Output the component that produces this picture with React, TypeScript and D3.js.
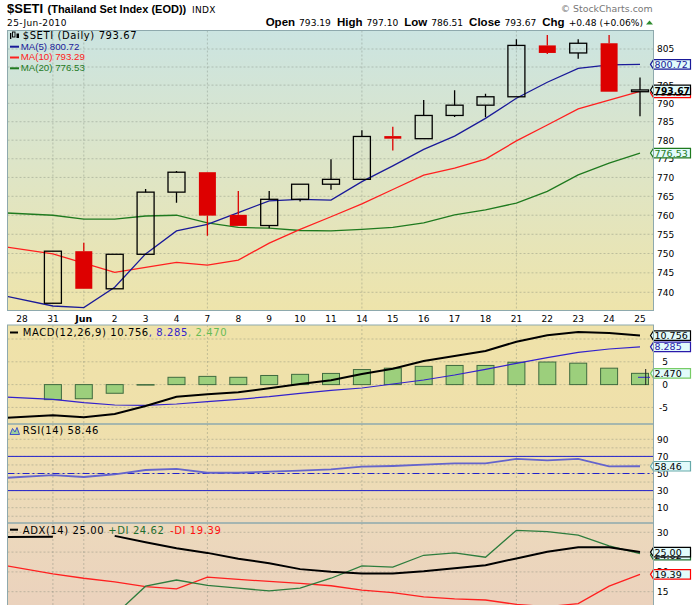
import React from 'react';
import * as d3 from 'd3';

// ---------- DATA ----------
const xLabels = ["28","31","Jun","2","3","4","7","8","9","10","11","14","15","16","17","18","21","22","23","24","25"];
const gridLabels = ["31","Jun","7","14","21"];

// slots for indicator series (-1 = prior session, left of the visible area; 28 has no session)
const seriesSlots = [-1,1,2,3,4,5,6,7,8,9,10,11,12,13,14,15,16,17,18,19,20];
const candleSlots = [1,2,3,4,5,6,7,8,9,10,11,12,13,14,15,16,17,18,19,20];

const openP  = [737.2,750.6,740.9,749.8,766.1,771.4,760.1,757.3,764.2,768.2,769.5,781.1,780.4,786.7,789.5,791.8,806.0,803.9,806.6,793.19];
const highP  = [750.6,752.8,749.8,766.9,771.7,771.4,766.4,766.4,768.2,774.9,782.7,783.6,790.9,793.6,792.6,807.7,808.9,807.7,808.9,797.10];
const lowP   = [737.2,740.9,740.9,749.8,763.3,754.6,757.2,756.6,763.6,766.7,769.5,777.2,780.4,786.3,786.2,791.8,803.6,802.3,793.19,786.51];
const closeP = [750.6,740.9,749.8,766.1,771.4,759.9,757.2,764.2,768.2,769.5,781.0,780.4,786.7,789.5,791.8,806.0,803.9,806.6,793.19,793.67];

const ma5  = [739.8,736.5,736.1,741.3,749.9,755.9,757.6,760.7,763.8,764.2,764.0,768.9,773.1,777.5,781.1,785.9,791.4,795.8,799.6,800.6,800.72];
const ma10 = [752.3,749.9,747.5,745.1,746.4,747.7,747.0,748.3,752.7,756.3,759.6,763.0,766.8,770.6,772.5,774.9,779.8,784.1,788.5,790.9,793.29];
const ma20 = [760.8,760.0,759.0,759.0,759.8,760.0,758.0,756.8,756.6,756.0,755.9,756.3,756.8,758.0,760.1,761.4,763.2,766.3,770.7,773.8,776.53];

const macdLine = [-7.46,-6.73,-7.17,-6.45,-4.69,-2.65,-2.13,-1.69,-0.81,0.13,0.94,2.32,3.49,5.18,6.27,7.37,9.41,10.81,11.54,11.32,10.756];
const signalLine = [-2.6,-3.22,-3.97,-4.47,-4.54,-4.25,-3.75,-3.22,-2.65,-1.91,-1.25,-0.75,0.13,1.01,2.1,3.35,4.67,5.9,7.08,7.81,8.285];
const histValues = [-3.3,-3.1,-1.9,-0.1,1.6,1.8,1.6,2.0,2.25,2.45,3.3,3.6,4.0,4.2,4.2,4.9,4.95,4.7,3.6,2.47];

const rsiValues = [43.9,48.2,45.9,49.1,54.1,55.3,50.9,50.9,52.1,53.3,54.9,58.0,58.8,60.3,61.9,61.9,67.0,65.4,67.0,58.4,58.46];

const adxValues = [28.8,28.9,NaN,29.1,27.5,26.0,24.8,23.3,22.2,20.7,20.05,19.6,19.6,20.15,20.9,21.7,23.4,25.1,26.2,26.2,25.0];
const plusDI  = [8,8,8.5,9.1,16.4,17.95,16.6,15.9,15.2,15.9,18.4,21.5,21.2,24.2,24.8,23.7,30.5,30.15,29.3,26.6,24.62];
const minusDI = [22.25,19.5,18.4,17.5,16.3,15.7,18.7,18.1,17.6,17.1,16.5,15.4,14.75,13.7,13.2,12.9,11.8,11.2,12.0,16.4,19.39];

const priceTicks = d3.range(740, 806, 5);
const priceLabels = [805, 795, 790, 785, 780, 775, 770, 765, 760, 755, 750, 745, 740];
const macdTicks = [10, 5, 0, -5];
const macdLabels = [5, 0, -5];
const rsiTicks = [90, 80, 70, 60, 50, 40, 30, 20, 10, 0];
const rsiLabels = [90, 70, 50, 30, 10];
const adxTicks = [30, 25, 20, 15, 10];
const adxLabels = [30, 20, 15];

// ---------- LAYOUT ----------
const W = 699, H = 605;
const L = 7.5, R = 653.5;
const P = { top: 30.5, bottom: 310.5 };
const M = { top: 325, bottom: 424 };
const RS = { top: 424, bottom: 523 };
const A = { top: 523, bottom: 660 };

const x = d3.scaleLinear().domain([0, 20]).range([22, 640]);
const yP = d3.scaleLog().domain([740, 805]).range([292.3, 49]);
const yM = d3.scaleLinear().domain([10, -5]).range([339, 407.4]);
const yR = d3.scaleLinear().domain([90, 10]).range([439.3, 507.7]);
const yA = d3.scaleLinear().domain([30, 15]).range([532.3, 591.7]);

const FONT = "'DejaVu Sans', Verdana, sans-serif";
const ARIAL = "'Liberation Sans', Arial, sans-serif";
const GRID = "rgba(110,120,110,0.35)";

function pathFor(vals: number[], y: (v: number) => number, gaps = false) {
  const pts: [number, number][] = seriesSlots.map((s, i) => [x(s), vals[i]]);
  const gen = d3.line<[number, number]>().x(d => d[0]).y(d => y(d[1]));
  if (gaps) gen.defined(d => !isNaN(d[1]));
  return gen(gaps ? pts : pts.filter(d => !isNaN(d[1]))) || '';
}

function Tag({ y, text, stroke, color = '#000', bold = false, fill = '#e2fbfb' }:
  { y: number; text: string; stroke: string; color?: string; bold?: boolean; fill?: string }) {
  const x0 = 650.5, w = 40, h = 9.5;
  const d = `M${x0},${y} L${x0 + 3},${y - h / 2} L${x0 + w},${y - h / 2} L${x0 + w},${y + h / 2} L${x0 + 3},${y + h / 2} Z`;
  return (
    <g>
      <path d={d} fill={fill} stroke={stroke} strokeWidth={1.2} />
      <text x={x0 + 4} y={y + 3.6} fontSize={bold ? 9.2 : 9.5} fontFamily={FONT} fontWeight={bold ? 'bold' : 'normal'} fill={color}>{text}</text>
    </g>
  );
}

function HGrid({ ys }: { ys: number[] }) {
  return <g>{ys.map((yy, i) => <line key={i} x1={L} x2={R} y1={yy} y2={yy} stroke={GRID} strokeDasharray="2,2" />)}</g>;
}

function VGrid({ top, bottom }: { top: number; bottom: number }) {
  return <g>{gridLabels.map(lb => {
    const xx = x(xLabels.indexOf(lb));
    return <line key={lb} x1={xx} x2={xx} y1={top} y2={bottom} stroke={GRID} strokeDasharray="2,2" />;
  })}</g>;
}

export default function App() {
  const bodyW = 17;
  return (
    <svg width={W} height={H} style={{ position: 'absolute', left: 0, top: 0, background: '#fff' }} xmlns="http://www.w3.org/2000/svg">
      <defs>
        <linearGradient id="gp" gradientUnits="userSpaceOnUse" x1="0" y1={P.top} x2="0" y2={P.bottom}>
          <stop offset="0" stopColor="#cbe4e1" />
          <stop offset="0.5" stopColor="#dee5c6" />
          <stop offset="1" stopColor="#eee4ab" />
        </linearGradient>
        <linearGradient id="gl" gradientUnits="userSpaceOnUse" x1="0" y1={M.top} x2="0" y2={H}>
          <stop offset="0" stopColor="#efe2a9" />
          <stop offset="0.35" stopColor="#efe0ab" />
          <stop offset="0.7" stopColor="#ecd9bc" />
          <stop offset="1" stopColor="#ebd2bd" />
        </linearGradient>
        <clipPath id="cp"><rect x={L} y={P.top} width={R - L} height={P.bottom - P.top} /></clipPath>
        <clipPath id="cm"><rect x={L} y={M.top} width={R - L} height={M.bottom - M.top} /></clipPath>
        <clipPath id="cr"><rect x={L} y={RS.top} width={R - L} height={RS.bottom - RS.top} /></clipPath>
        <clipPath id="ca"><rect x={L} y={A.top} width={R - L} height={A.bottom - A.top} /></clipPath>
      </defs>

      {/* Header */}
      <text x={7} y={12.5} fontFamily={ARIAL} fontWeight="bold" fontSize={13} fill="#000">$SETI</text>
      <text x={47.5} y={12.5} fontFamily={ARIAL} fontWeight="bold" fontSize={11} fill="#000">(Thailand Set Index (EOD))</text>
      <text x={192} y={12.5} fontFamily={FONT} fontSize={9} letterSpacing={0.3} fill="#000">INDX</text>
      <text x={7} y={25.5} fontFamily={FONT} fontSize={9} letterSpacing={0.4} fill="#000">25-Jun-2010</text>
      <text x={652.7} y={11.5} fontFamily={FONT} fontSize={9.4} textAnchor="end" fill="#777">© StockCharts.com</text>
      <text x={643} y={25.5} textAnchor="end" fill="#000">
        <tspan fontFamily={ARIAL} fontWeight="bold" fontSize={11.5}>Open</tspan>
        <tspan dx={4} fontFamily={FONT} fontSize={9.1}>793.19</tspan>
        <tspan dx={6} fontFamily={ARIAL} fontWeight="bold" fontSize={11.5}>High</tspan>
        <tspan dx={4} fontFamily={FONT} fontSize={9.1}>797.10</tspan>
        <tspan dx={6} fontFamily={ARIAL} fontWeight="bold" fontSize={11.5}>Low</tspan>
        <tspan dx={4} fontFamily={FONT} fontSize={9.1}>786.51</tspan>
        <tspan dx={6} fontFamily={ARIAL} fontWeight="bold" fontSize={11.5}>Close</tspan>
        <tspan dx={4} fontFamily={FONT} fontSize={9.1}>793.67</tspan>
        <tspan dx={6} fontFamily={ARIAL} fontWeight="bold" fontSize={11.5}>Chg</tspan>
        <tspan dx={4} fontFamily={FONT} fontSize={9.1}>+0.48 (+0.06%)</tspan>
      </text>
      <path d="M646,24.5 L649.5,20.5 L653,24.5 Z" fill="#2e8b2e" />

      {/* Panel backgrounds */}
      <rect x={L} y={P.top} width={R - L} height={P.bottom - P.top} fill="url(#gp)" />
      <rect x={L} y={M.top} width={R - L} height={H - M.top} fill="url(#gl)" />

      {/* ---------- PRICE PANEL ---------- */}
      <HGrid ys={priceTicks.map(v => yP(v))} />
      <VGrid top={P.top} bottom={P.bottom} />
      <g clipPath="url(#cp)">
        <path d={pathFor(ma20, yP)} fill="none" stroke="#1f7a1f" strokeWidth={1.3} />
        <path d={pathFor(ma10, yP)} fill="none" stroke="#ff2020" strokeWidth={1.3} />
        <path d={pathFor(ma5, yP)} fill="none" stroke="#1a1a99" strokeWidth={1.3} />
        {candleSlots.map((s, i) => {
          const o = openP[i], c = closeP[i], h = highP[i], l = lowP[i];
          const prev = i > 0 ? closeP[i - 1] : -Infinity;
          const col = c < prev ? '#dd0000' : '#000';
          const filled = c < o;
          const cx = x(s);
          const yTop = yP(Math.max(o, c)), yBot = yP(Math.min(o, c));
          const bh = Math.max(1, yBot - yTop);
          return (
            <g key={s}>
              <line x1={cx} x2={cx} y1={yP(h)} y2={yTop} stroke={col} strokeWidth={1.3} />
              <line x1={cx} x2={cx} y1={yTop + bh} y2={yP(l)} stroke={col} strokeWidth={1.3} />
              {filled
                ? <rect x={cx - bodyW / 2} y={yTop} width={bodyW} height={bh} fill={col} />
                : <rect x={cx - bodyW / 2} y={yTop} width={bodyW} height={bh} fill="none" stroke={col} strokeWidth={1.3} />}
            </g>
          );
        })}
      </g>
      {/* price legend */}
      <g>
        <rect x={10} y={33} width={1.3} height={6} fill="#000" />
        <rect x={12.5} y={32} width={2.5} height={5} fill="none" stroke="#000" strokeWidth={0.9} />
        <rect x={16.5} y={33.5} width={2.5} height={4.5} fill="#000" />
        <text x={22.7} y={39.3} fontFamily={FONT} fontSize={10} letterSpacing={0.6} fill="#000">$SETI (Daily) 793.67</text>
        <line x1={10} x2={19} y1={46.7} y2={46.7} stroke="#1a1a99" strokeWidth={2} />
        <text x={20.7} y={49.5} fontFamily={ARIAL} fontSize={9.7} fill="#1a1a99">MA(5) 800.72</text>
        <line x1={10} x2={19} y1={57.5} y2={57.5} stroke="#ff2020" strokeWidth={2} />
        <text x={20.7} y={60.3} fontFamily={ARIAL} fontSize={9.7} fill="#ff2020">MA(10) 793.29</text>
        <line x1={10} x2={19} y1={68.3} y2={68.3} stroke="#1f7a1f" strokeWidth={2} />
        <text x={20.7} y={71.1} fontFamily={ARIAL} fontSize={9.7} fill="#1f7a1f">MA(20) 776.53</text>
      </g>
      {/* price axis */}
      {priceLabels.map(v => (
        <text key={v} x={657} y={yP(v) + 3.4} fontFamily={FONT} fontSize={9} fill="#000">{v}</text>
      ))}
      <Tag y={yP(800.72)} text="800.72" stroke="#1a1a99" color="#1a1a99" />
      <Tag y={yP(776.53)} text="776.53" stroke="#1f7a1f" color="#1f7a1f" />
      <Tag y={yP(793.29) + 1.5} text="793.29" stroke="#ff0000" color="#ff0000" />
      <Tag y={yP(793.67)} text="793.67" stroke="#000" bold />

      {/* x-axis labels */}
      {xLabels.map((lb, i) => (
        <text key={i} x={x(i)} y={321.7} textAnchor="middle" fontFamily={FONT} fontSize={lb === 'Jun' ? 9.5 : 9}
          fontWeight={lb === 'Jun' ? 'bold' : 'normal'} fill="#000">{lb}</text>
      ))}

      {/* ---------- MACD PANEL ---------- */}
      <HGrid ys={macdTicks.map(v => yM(v))} />
      <VGrid top={M.top} bottom={M.bottom} />
      <g clipPath="url(#cm)">
        {candleSlots.map((s, i) => {
          const v = histValues[i];
          const y0 = yM(0), y1 = yM(v);
          return <rect key={s} x={x(s) - bodyW / 2} y={Math.min(y0, y1)} width={bodyW} height={Math.max(0.5, Math.abs(y1 - y0))}
            fill="#9ccf7c" stroke="#3f6b3f" strokeWidth={1} />;
        })}
        <path d={pathFor(signalLine, yM)} fill="none" stroke="#3322cc" strokeWidth={1.2} />
        <path d={pathFor(macdLine, yM)} fill="none" stroke="#000" strokeWidth={2} />
        <line x1={638} x2={650} y1={yM(1.6)} y2={yM(1.6)} stroke="#3322cc" strokeWidth={1} />
        <line x1={645.7} x2={645.7} y1={369} y2={385} stroke="#222" strokeWidth={1} />
      </g>
      <line x1={10} x2={18} y1={332.5} y2={332.5} stroke="#000" strokeWidth={2} />
      <text x={22.7} y={335.7} fontFamily={FONT} fontSize={10} letterSpacing={0.6}>
        <tspan fill="#000">MACD(12,26,9) 10.756</tspan>
        <tspan fill="#3322cc">, 8.285</tspan>
        <tspan fill="#66bb55">, 2.470</tspan>
      </text>
      {macdLabels.map(v => (
        <text key={v} x={668} y={yM(v) + 3.4} textAnchor="end" fontFamily={FONT} fontSize={9} fill="#000">{v}</text>
      ))}
      <Tag y={yM(10.756)} text="10.756" stroke="#000" />
      <Tag y={yM(8.285)} text="8.285" stroke="#2a1aaa" color="#2a1aaa" />
      <Tag y={yM(2.47)} text="2.470" stroke="#77cc66" />

      {/* ---------- RSI PANEL ---------- */}
      <HGrid ys={rsiTicks.map(v => yR(v))} />
      <VGrid top={RS.top} bottom={RS.bottom} />
      <g clipPath="url(#cr)">
        <line x1={L} x2={R} y1={yR(70)} y2={yR(70)} stroke="#2222cc" strokeWidth={1} />
        <line x1={L} x2={R} y1={yR(30)} y2={yR(30)} stroke="#2222cc" strokeWidth={1} />
        <line x1={L} x2={R} y1={yR(50)} y2={yR(50)} stroke="#2222cc" strokeWidth={1} strokeDasharray="7,3,2,3" />
        <path d={pathFor(rsiValues, yR)} fill="none" stroke="#6464cc" strokeWidth={1.8} />
      </g>
      <path d="M10,434.5 L12.5,428.5 L15,432 L17,427.5 L19.5,434.5 Z" fill="#9ccf9c" stroke="#3344cc" strokeWidth={0.9} />
      <text x={22.7} y={434.3} fontFamily={FONT} fontSize={10} letterSpacing={0.6} fill="#000">RSI(14) 58.46</text>
      {rsiLabels.map(v => (
        <text key={v} x={657} y={yR(v) + 3.4} fontFamily={FONT} fontSize={9} fill="#000">{v}</text>
      ))}
      <Tag y={yR(58.46)} text="58.46" stroke="#66aaaa" />

      {/* ---------- ADX PANEL ---------- */}
      <HGrid ys={adxTicks.map(v => yA(v))} />
      <VGrid top={A.top} bottom={H} />
      <g clipPath="url(#ca)">
        <path d={pathFor(minusDI, yA)} fill="none" stroke="#ff2020" strokeWidth={1.3} />
        <path d={pathFor(plusDI, yA)} fill="none" stroke="#2e7d3e" strokeWidth={1.3} />
        <path d={pathFor(adxValues, yA, true)} fill="none" stroke="#000" strokeWidth={2} />
      </g>
      <line x1={10} x2={18} y1={529.7} y2={529.7} stroke="#000" strokeWidth={2} />
      <text x={22.7} y={534} fontFamily={FONT} fontSize={10} letterSpacing={0.6} fill="#000">ADX(14) 25.00</text>
      <text x={108.3} y={534} fontFamily={FONT} fontSize={10} letterSpacing={0.6} fill="#1f6e2e">+DI 24.62</text>
      <text x={170} y={534} fontFamily={FONT} fontSize={10} letterSpacing={0.6} fill="#ff1010">-DI 19.39</text>
      {adxLabels.map(v => (
        <text key={v} x={657} y={yA(v) + 3.4} fontFamily={FONT} fontSize={9} fill="#000">{v}</text>
      ))}
      <Tag y={yA(24.62) + 1.5} text="24.62" stroke="#1f6e2e" />
      <Tag y={yA(25)} text="25.00" stroke="#000" />
      <Tag y={yA(19.39)} text="19.39" stroke="#ff0000" />

      {/* Panel borders */}
      <g fill="none" stroke="#8ea9ad" strokeWidth={1}>
        <rect x={L} y={P.top} width={R - L} height={P.bottom - P.top} />
        <rect x={L} y={M.top} width={R - L} height={M.bottom - M.top} />
        <rect x={L} y={RS.top} width={R - L} height={RS.bottom - RS.top} />
        <rect x={L} y={A.top} width={R - L} height={A.bottom - A.top} />
      </g>
    </svg>
  );
}
